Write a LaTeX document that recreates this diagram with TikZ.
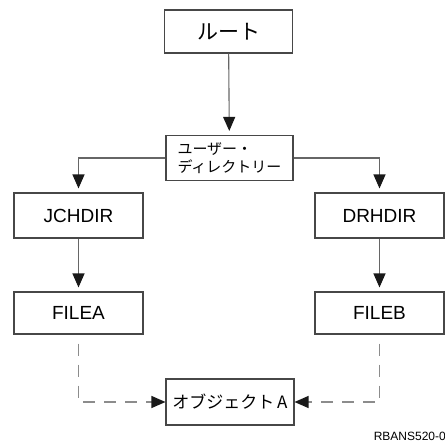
\documentclass[tikz,border=0pt]{standalone}
\usepackage{fontspec}
\setmainfont{Liberation Sans}
\newfontfamily\jpfont{Noto Sans CJK JP}
\usetikzlibrary{arrows.meta,calc}
\tikzset{>={Triangle[length=14pt,width=12pt]}}
\colorlet{boxline}{black!72}
\colorlet{linkline}{black!60}
\colorlet{dashline}{black!45}
\tikzset{
  box/.style={draw=boxline,line width=1.1pt,minimum width=128pt,inner sep=0pt},
  link/.style={-{Triangle[length=14pt,width=12pt,color=black!90]},draw=linkline,line width=1.1pt,shorten >=4pt},
  dlink/.style={-{Triangle[length=14pt,width=12pt,color=black!90]},draw=dashline,line width=1.2pt,dash pattern=on 12pt off 9pt}
}

\begin{document}
\begin{tikzpicture}[x=1pt,y=1pt]
  \useasboundingbox (0,0) rectangle (445,-442);

  % BOXES
  \node[box,minimum height=43pt,font=\jpfont\fontsize{21}{24}\selectfont] (root) at (228.5,-31.5) {ルート};
  \node[box,minimum height=45pt,minimum width=127pt,align=left,font=\jpfont\fontsize{15}{17.5}\selectfont] (udir) at (229.5,-158) {ユーザー・\\ディレクトリー};
  \node[box,minimum height=45pt,minimum width=129pt,font=\fontsize{19}{22}\selectfont] (jch) at (78.5,-215.5) {JCHDIR};
  \node[box,minimum height=45pt,minimum width=129pt,font=\fontsize{19}{22}\selectfont] (drh) at (379.5,-215.5) {DRHDIR};
  \node[box,minimum height=42pt,minimum width=129pt,font=\fontsize{19}{22}\selectfont] (filea) at (78.5,-313) {FILEA};
  \node[box,minimum height=42pt,minimum width=129pt,font=\fontsize{19}{22}\selectfont] (fileb) at (379.5,-313) {FILEB};
  \node[box,minimum height=46pt,font=\jpfont\fontsize{17}{20}\selectfont] (obj) at (230,-402) {オブジェクト\,A};

  % LINKS
  \draw[link] (root) -- (udir);
  \draw[link] (udir.west) -| (jch.north);
  \draw[link] (udir.east) -| (drh.north);
  \draw[link] (jch) -- (filea);
  \draw[link] (drh) -- (fileb);

  % SHORTCUTS
  \coordinate (ca) at ($(filea.south)+(0,-9)$);
  \coordinate (cb) at ($(fileb.south)+(0,-9)$);
  \draw[dlink] (ca) |- (obj.west);
  \draw[dlink] (cb) |- (obj.east);

  \node[anchor=east,inner sep=0pt,font=\fontsize{12}{14}\selectfont] (fig) at (446,-436) {RBANS520-0};
\end{tikzpicture}
\end{document}
